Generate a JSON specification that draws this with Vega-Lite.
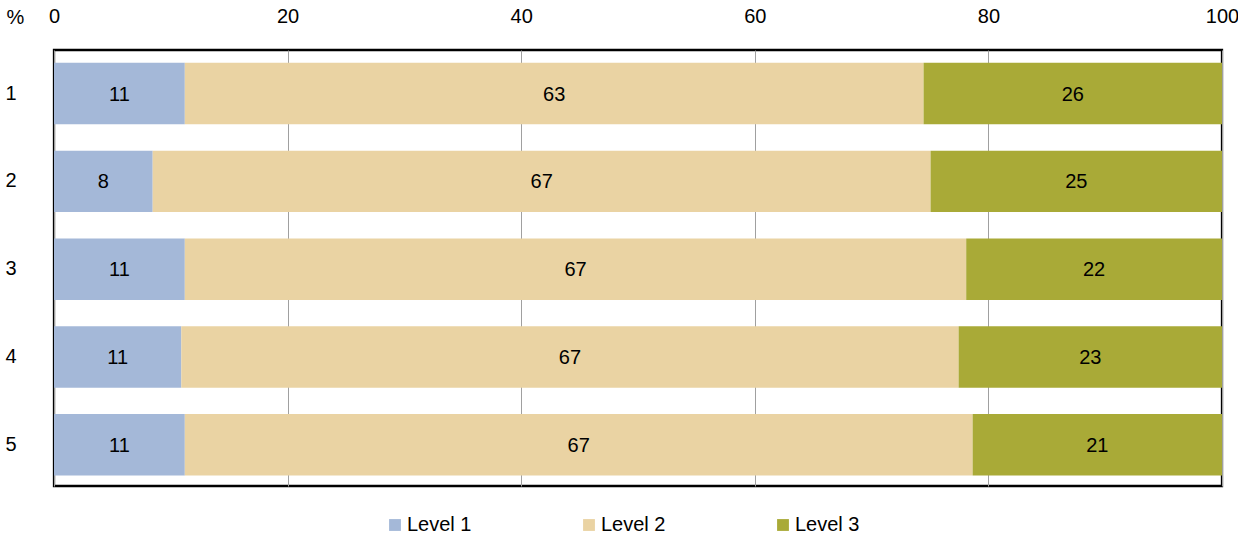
{
  "$schema": "https://vega.github.io/schema/vega-lite/v6.json",
  "width": 1168,
  "height": 436,
  "autosize": {"type": "none"},
  "padding": {"left": 54, "top": 50, "right": 16, "bottom": 51},
  "config": {
    "font": "Liberation Sans",
    "view": {"stroke": "black", "strokeWidth": 2.3}
  },
  "data": {
    "values": [
      {"row": "1", "level": "Level 1", "value": 11.2},
      {"row": "1", "level": "Level 2", "value": 63.25},
      {"row": "1", "level": "Level 3", "value": 25.55},
      {"row": "2", "level": "Level 1", "value": 8.45},
      {"row": "2", "level": "Level 2", "value": 66.6},
      {"row": "2", "level": "Level 3", "value": 24.95},
      {"row": "3", "level": "Level 1", "value": 11.2},
      {"row": "3", "level": "Level 2", "value": 66.9},
      {"row": "3", "level": "Level 3", "value": 21.9},
      {"row": "4", "level": "Level 1", "value": 10.9},
      {"row": "4", "level": "Level 2", "value": 66.55},
      {"row": "4", "level": "Level 3", "value": 22.55},
      {"row": "5", "level": "Level 1", "value": 11.2},
      {"row": "5", "level": "Level 2", "value": 67.45},
      {"row": "5", "level": "Level 3", "value": 21.35}
    ]
  },
  "transform": [
    {"stack": "value", "groupby": ["row"], "sort": [{"field": "level", "order": "ascending"}], "as": ["v0", "v1"]},
    {"calculate": "(datum.v0 + datum.v1) / 2", "as": "mid"}
  ],
  "encoding": {
    "y": {
      "field": "row",
      "type": "ordinal",
      "scale": {"paddingInner": 0.3, "paddingOuter": 0.133, "align": 0.55},
      "axis": {
        "title": "%",
        "titleAngle": 0,
        "titleAlign": "left",
        "titleBaseline": "middle",
        "titleX": -48,
        "titleY": -33,
        "titleFontSize": 20,
        "titleFontWeight": "normal",
        "titleColor": "black",
        "domain": false,
        "ticks": false,
        "labelAlign": "left",
        "labelPadding": 49,
        "labelFontSize": 20,
        "labelColor": "black"
      }
    }
  },
  "layer": [
    {
      "mark": {"type": "bar"},
      "encoding": {
        "x": {
          "field": "v0",
          "type": "quantitative",
          "scale": {"domain": [0, 100], "nice": false},
          "axis": {
            "orient": "top",
            "title": null,
            "values": [0, 20, 40, 60, 80, 100],
            "domain": false,
            "ticks": false,
            "labelFlush": false,
            "labelOverlap": false,
            "labelPadding": 24,
            "labelFontSize": 20,
            "labelColor": "black",
            "grid": true,
            "gridColor": "#a0a0a0",
            "gridWidth": 1
          }
        },
        "x2": {"field": "v1"},
        "color": {
          "field": "level",
          "type": "nominal",
          "scale": {
            "domain": ["Level 1", "Level 2", "Level 3"],
            "range": ["#a4b8d8", "#ead3a3", "#a9aa37"]
          },
          "legend": {
            "orient": "none",
            "legendX": 331,
            "legendY": 465,
            "direction": "horizontal",
            "title": null,
            "symbolType": "square",
            "symbolSize": 140,
            "symbolStrokeWidth": 0,
            "labelFontSize": 20,
            "labelColor": "black",
            "labelOffset": 2,
            "columnPadding": 107
          }
        }
      }
    },
    {
      "mark": {"type": "text", "fontSize": 20, "color": "black", "baseline": "middle", "dy": 1},
      "encoding": {
        "x": {"field": "mid", "type": "quantitative"},
        "text": {"field": "value", "type": "quantitative", "format": ".0f"}
      }
    }
  ]
}
